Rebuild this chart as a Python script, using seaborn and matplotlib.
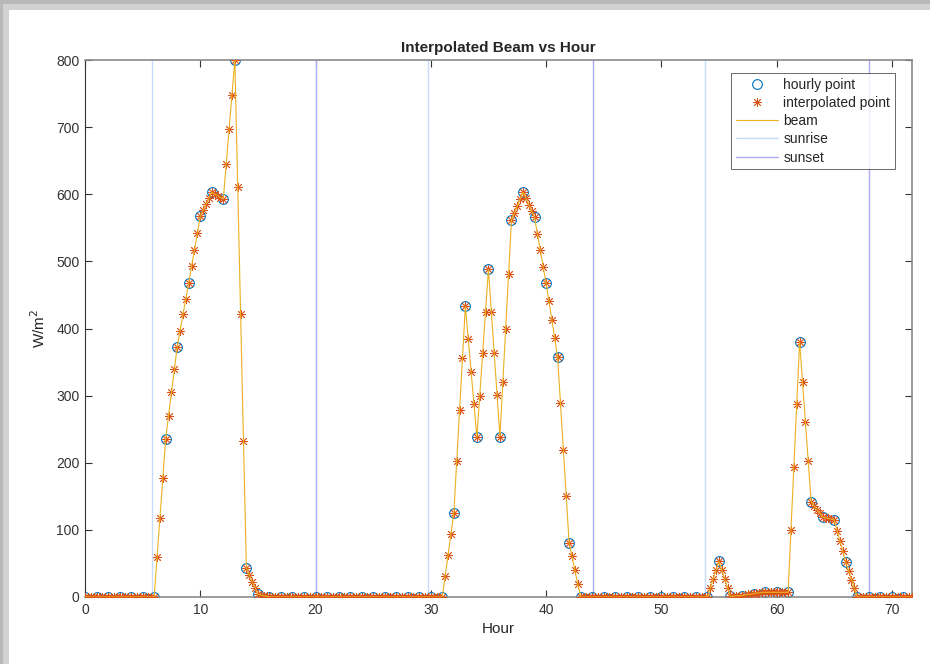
"""
Interpolated beam irradiance vs hour, redrawn in the MATLAB look.
"""

import numpy as np
import pandas as pd
import matplotlib
matplotlib.use("Agg")
import matplotlib.pyplot as plt
import seaborn as sns
from matplotlib.patches import Rectangle

# quarter-hour beam values (W/m^2), one row per hour: h, h+.25, h+.5, h+.75
day1 = [
    0, 0, 0, 0,  0, 0, 0, 0,  0, 0, 0, 0,  0, 0, 0, 0,  0, 0, 0, 0,  0, 0, 0, 0,
    0, 59, 118, 177,
    236, 270, 305, 339,
    373, 397, 421, 444,
    468, 493, 517, 542,
    567, 576, 585, 594,
    603, 600, 598, 595,
    593, 645, 697, 748,
    800, 611, 421, 232,
    43, 33, 23, 14,
    4, 3, 2, 1,
    0, 0, 0, 0,  0, 0, 0, 0,  0, 0, 0, 0,  0, 0, 0, 0,
    0, 0, 0, 0,  0, 0, 0, 0,  0, 0, 0, 0,  0, 0, 0, 0,
]
day2 = [
    0, 0, 0, 0,  0, 0, 0, 0,  0, 0, 0, 0,  0, 0, 0, 0,  0, 0, 0, 0,  0, 0, 0, 0,
    0, 0, 0, 0,
    0, 31, 62, 94,
    125, 202, 279, 356,
    433, 384, 335, 287,
    238, 300, 363, 425,
    488, 425, 363, 301,
    239, 320, 400, 481,
    562, 572, 582, 593,
    603, 594, 584, 575,
    566, 541, 517, 492,
    468, 441, 413, 386,
    358, 289, 219, 150,
    81, 61, 40, 20,
    0, 0, 0, 0,  0, 0, 0, 0,  0, 0, 0, 0,  0, 0, 0, 0,  0, 0, 0, 0,
]
day3 = [
    0, 0, 0, 0,  0, 0, 0, 0,  0, 0, 0, 0,  0, 0, 0, 0,  0, 0, 0, 0,  0, 0, 0, 0,
    0, 13, 27, 40,
    53, 40, 27, 14,
    1, 1, 2, 2,
    2, 3, 4, 4,
    5, 6, 6, 7,
    7, 7, 7, 7,
    7, 7, 7, 7,
    7, 100, 194, 287,
    380, 321, 261, 202,
    142, 136, 130, 125,
    119, 118, 117, 116,
    115, 99, 83, 68,
    52, 39, 26, 13,
    0, 0, 0, 0,  0, 0, 0, 0,  0, 0, 0, 0,  0, 0, 0, 0,  0, 0, 0, 0,
]
sunrise = [5.8, 29.8, 53.75]
sunset = [20.05, 44.1, 68.0]
x_ticks = [0, 10, 20, 30, 40, 50, 60, 70]
y_ticks = [0, 100, 200, 300, 400, 500, 600, 700, 800]

beam = np.array(day1 + day2 + day3, dtype=float)
quarter = np.arange(len(beam)) * 0.25
df_q = pd.DataFrame({"hour": quarter, "beam": beam})
df_h = df_q.iloc[::4]  # the hourly samples are the whole-hour rows

sns.set_theme(style="white")
plt.rcParams.update({
    "font.family": ["Liberation Sans", "DejaVu Sans"],
    "axes.edgecolor": "#8a8a8a",
    "xtick.color": "#333333",
    "ytick.color": "#333333",
})

fig = plt.figure(figsize=(9.3, 6.64), dpi=100)
fig.patch.set_facecolor("white")
# screenshot shadow along top and left edges (two shades for a soft edge)
for w, c in [(10, "#d2d2d2"), (4, "#b8b8b8")]:
    fig.patches.append(Rectangle((0, 1 - w / 664), 1, w / 664, transform=fig.transFigure,
                                 facecolor=c, edgecolor="none", zorder=0))
    fig.patches.append(Rectangle((0, 0), (w - 1) / 930, 1, transform=fig.transFigure,
                                 facecolor=c, edgecolor="none", zorder=0))

ax = fig.add_axes([85 / 930, 1 - 597 / 664, 827 / 930, 537 / 664])

sns.lineplot(data=df_h, x="hour", y="beam", ax=ax, linestyle="", marker="o",
             markersize=7, markerfacecolor="none", markeredgecolor="#0072BD",
             markeredgewidth=0.8, color="#0072BD", label="hourly point", zorder=2)
sns.lineplot(data=df_q, x="hour", y="beam", ax=ax, linestyle="", marker=(8, 2, 0),
             markersize=6.5, markeredgecolor="#D95319", markeredgewidth=0.6,
             color="#D95319", label="interpolated point", zorder=3)
sns.lineplot(data=df_q, x="hour", y="beam", ax=ax, color="#EDB120", linewidth=0.8,
             label="beam", zorder=4)
for i, s in enumerate(sunrise):
    ax.axvline(s, color="#c6dcfa", linewidth=1.0, label="sunrise" if i == 0 else None, zorder=1)
for i, s in enumerate(sunset):
    ax.axvline(s, color="#adadf7", linewidth=1.0, label="sunset" if i == 0 else None, zorder=1)

ax.set_xlim(0, 71.75)
ax.set_ylim(0, 800)
ax.set_xticks(x_ticks)
ax.set_yticks(y_ticks)
ax.tick_params(direction="in", length=5, width=0.8, top=True, right=True,
               labelsize=10, pad=4, bottom=True, left=True)
for side in ["top", "bottom", "right"]:
    ax.spines[side].set_linewidth(1.2)
ax.spines["left"].set_color("#333333")
ax.spines["left"].set_linewidth(0.8)

ax.set_title("Interpolated Beam vs Hour", fontsize=11, fontweight="bold", pad=6)
ax.set_xlabel("Hour", fontsize=11, color="#262626", labelpad=4)
ax.set_ylabel("W/m$^2$", fontsize=11, color="#262626", labelpad=6)

leg = ax.legend(loc="upper right", bbox_to_anchor=(0.9795, 0.9758), borderaxespad=0,
                fontsize=10, frameon=True, fancybox=False, handlelength=3,
                handletextpad=0.4, labelspacing=0.3, borderpad=0.35)
leg.get_frame().set_edgecolor("#262626")
leg.get_frame().set_linewidth(0.6)

fig.savefig("out.png", dpi=100)
